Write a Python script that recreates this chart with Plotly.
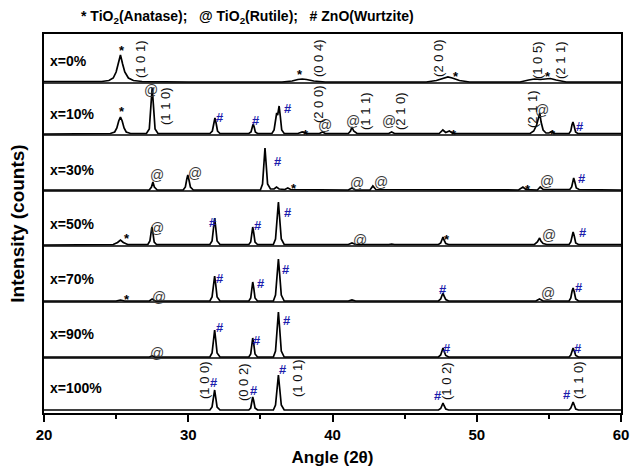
import plotly.graph_objects as go

# Sample labels, top to bottom
samples = ["x=0%", "x=10%", "x=30%", "x=50%", "x=70%", "x=90%", "x=100%"]

# (2θ, counts) vertices of each diffractogram
xrd_0 = [(20, 0.5), (24.0, 0.5), (24.5, 1.5), (24.8, 4), (25.0, 10), (25.15, 18), (25.3, 27),
         (25.45, 18), (25.6, 10), (25.85, 4), (26.2, 1.5), (26.8, 0.5), (30, 0), (36.5, 0),
         (37.2, 1), (37.6, 2.5), (37.9, 3), (38.2, 2.5), (38.7, 1), (39.5, 0), (46.5, 0),
         (47.2, 1.5), (47.7, 4), (48.0, 5), (48.3, 4), (48.8, 1.5), (49.5, 0), (53.0, 0),
         (53.6, 2), (54.0, 3), (54.4, 2.5), (54.8, 3), (55.1, 3.5), (55.5, 2), (56.2, 0), (60, 0)]

xrd_10 = [(20, 0), (24.6, 0.5), (24.9, 2), (25.05, 6), (25.18, 13), (25.3, 17), (25.42, 13),
          (25.55, 6), (25.7, 2), (26.0, 0.5),
          (27.1, 0.5), (27.3, 5), (27.42, 30), (27.5, 46), (27.58, 30), (27.7, 5), (27.9, 0.5),
          (31.5, 0.5), (31.67, 3), (31.77, 11), (31.85, 16), (31.93, 11), (32.03, 3), (32.2, 0.5),
          (34.2, 0.5), (34.35, 2), (34.43, 7), (34.5, 10), (34.57, 7), (34.65, 2), (34.8, 0.5),
          (35.8, 0.5), (35.95, 4), (36.05, 14), (36.13, 21), (36.2, 19), (36.3, 28), (36.38, 18),
          (36.48, 4), (36.65, 0.5),
          (37.6, 0.5), (37.9, 2), (38.2, 0.5), (39.1, 0.5), (39.3, 2), (39.5, 0.5),
          (41.1, 0.5), (41.25, 3), (41.35, 7), (41.47, 3), (41.7, 0.5),
          (43.9, 0.5), (44.1, 2), (44.3, 0.5),
          (47.4, 0.5), (47.65, 4), (47.85, 1.5), (48.1, 3), (48.35, 0.5),
          (53.7, 0.5), (53.95, 3), (54.15, 9), (54.28, 16), (54.37, 21), (54.46, 12), (54.6, 4),
          (54.8, 1), (55.0, 1), (55.2, 2.5), (55.4, 0.5),
          (56.4, 0.5), (56.52, 3), (56.6, 9), (56.67, 12), (56.75, 8), (56.85, 2), (57.0, 0.5),
          (60, 0.5)]

xrd_30 = [(20, 0), (27.3, 0), (27.45, 3), (27.55, 8), (27.65, 3), (27.85, 0),
          (29.65, 0), (29.8, 3), (29.9, 11), (29.97, 15), (30.05, 10), (30.15, 3), (30.35, 0),
          (35.0, 0), (35.15, 6), (35.25, 28), (35.32, 42), (35.39, 28), (35.5, 6), (35.7, 1),
          (35.95, 1), (36.12, 3), (36.3, 1), (36.7, 0.5), (36.9, 2), (37.1, 0.5),
          (41.1, 0), (41.35, 2), (41.6, 0), (42.6, 0), (42.8, 4), (43.0, 0.5),
          (52.9, 0), (53.2, 3), (53.4, 0.5), (54.2, 0), (54.4, 3), (54.6, 0.5),
          (56.45, 0.5), (56.58, 3), (56.66, 9), (56.72, 12), (56.8, 8), (56.9, 2), (57.1, 0.5),
          (60, 0)]

xrd_50 = [(20, 0), (24.8, 0.5), (25.1, 2.5), (25.3, 5), (25.5, 2.5), (25.8, 0.5),
          (27.2, 0.5), (27.34, 4), (27.42, 12), (27.48, 18), (27.55, 12), (27.64, 3), (27.8, 0.5),
          (31.5, 0.5), (31.65, 4), (31.76, 18), (31.83, 27), (31.9, 18), (32.0, 4), (32.2, 0.5),
          (34.2, 0.5), (34.33, 3), (34.41, 12), (34.47, 18), (34.54, 12), (34.63, 3), (34.8, 0.5),
          (35.9, 0.5), (36.05, 6), (36.17, 28), (36.25, 43), (36.33, 28), (36.45, 6), (36.65, 0.5),
          (41.1, 0.5), (41.35, 2), (41.6, 0.5), (43.9, 0.5), (44.1, 1), (44.3, 0.5),
          (47.35, 0.5), (47.5, 2), (47.6, 6), (47.66, 8), (47.73, 5), (47.85, 1.5), (48.05, 0.5),
          (54.0, 0.5), (54.2, 3), (54.3, 6), (54.36, 7), (54.45, 4), (54.6, 1.5), (54.85, 0.5),
          (56.4, 0.5), (56.52, 3), (56.61, 10), (56.68, 13), (56.76, 9), (56.86, 2), (57.05, 0.5),
          (60, 0.5)]

xrd_70 = [(20, 0), (25.0, 0), (25.3, 1), (25.6, 0), (27.3, 0), (27.5, 2), (27.7, 0),
          (31.5, 0), (31.65, 4), (31.76, 17), (31.83, 25), (31.9, 17), (32.0, 4), (32.2, 0),
          (34.2, 0), (34.33, 3), (34.41, 13), (34.47, 19), (34.54, 13), (34.63, 3), (34.8, 0),
          (35.9, 0), (36.05, 6), (36.17, 28), (36.25, 42), (36.33, 28), (36.45, 6), (36.65, 0),
          (41.1, 0), (41.35, 1), (41.6, 0),
          (47.35, 0), (47.5, 2), (47.6, 6), (47.66, 8), (47.73, 5), (47.85, 1.5), (48.05, 0),
          (54.1, 0), (54.35, 2), (54.6, 0),
          (56.4, 0), (56.52, 3), (56.61, 10), (56.68, 13), (56.76, 9), (56.86, 2), (57.05, 0),
          (60, 0)]

xrd_90 = [(20, 0), (27.3, 0), (27.5, 1), (27.7, 0),
          (31.5, 0), (31.65, 4), (31.76, 18), (31.83, 27), (31.9, 18), (32.0, 4), (32.2, 0),
          (34.2, 0), (34.33, 3), (34.41, 13), (34.47, 19), (34.54, 13), (34.63, 3), (34.8, 0),
          (35.9, 0), (36.05, 6), (36.17, 30), (36.25, 45), (36.33, 30), (36.45, 6), (36.65, 0),
          (47.35, 0), (47.5, 2), (47.6, 7), (47.66, 9), (47.73, 6), (47.85, 1.5), (48.05, 0),
          (56.4, 0), (56.52, 2), (56.61, 7), (56.68, 9), (56.76, 6), (56.86, 1.5), (57.05, 0),
          (60, 0)]

xrd_100 = [(20, 0), (31.5, 0), (31.65, 3), (31.76, 13), (31.83, 20), (31.9, 13), (32.0, 3),
           (32.2, 0), (34.2, 0), (34.33, 2), (34.41, 9), (34.47, 13), (34.54, 9), (34.63, 2),
           (34.8, 0), (35.9, 0), (36.05, 5), (36.17, 23), (36.25, 35), (36.33, 23), (36.45, 5),
           (36.65, 0), (47.35, 0), (47.5, 1.5), (47.6, 5), (47.66, 7), (47.73, 4.5), (47.85, 1),
           (48.05, 0), (56.4, 0), (56.52, 2), (56.61, 6), (56.68, 8), (56.76, 5), (56.86, 1),
           (57.05, 0), (60, 0)]

patterns = [xrd_0, xrd_10, xrd_30, xrd_50, xrd_70, xrd_90, xrd_100]

# Vertical stacking of the traces (counts)
stack_offset = [331, 279, 223, 168, 112, 56, 3]
y_top = 379

# Phase markers: (2θ, stacked height)
anatase_tags = [(25.41, 367), (37.75, 343), (48.56, 341), (54.94, 341),
                (25.41, 306), (38.16, 283), (48.42, 283), (55.29, 283),
                (37.33, 229), (53.55, 228),
                (25.75, 179), (47.94, 178),
                (25.75, 118)]
rutile_tags = [(27.42, 323), (39.48, 288), (41.42, 292), (43.92, 292), (54.52, 303),
               (27.83, 238), (30.47, 240), (41.7, 230), (43.36, 231), (54.87, 232),
               (27.83, 185), (41.91, 173), (55.01, 178),
               (27.97, 116), (54.94, 120),
               (27.83, 60)]
zno_tags = [(32.2, 296), (34.7, 293), (36.92, 305), (57.16, 287),
            (36.22, 252), (57.3, 235),
            (31.72, 191), (34.84, 188), (36.92, 201), (57.37, 181),
            (32.2, 135), (35.04, 130), (36.78, 144), (47.66, 124), (57.09, 126),
            (32.2, 86), (34.77, 73), (36.85, 93), (47.94, 65), (57.02, 65),
            (31.79, 31), (34.56, 23), (36.57, 44), (47.31, 18), (56.26, 19)]
hkl_tags = [(26.66, 354, "(1 0 1)"), (39.0, 355, "(0 0 4)"), (47.31, 355, "(2 0 0)"),
            (54.18, 353, "(1 0 5)"), (55.77, 353, "(2 1 1)"),
            (28.39, 307, "(1 1 0)"), (39.0, 309, "(2 0 0)"), (42.25, 302, "(1 1 1)"),
            (44.68, 302, "(2 1 0)"), (53.83, 304, "(2 1 1)"),
            (31.09, 33, "(1 0 0)"), (33.8, 31, "(0 0 2)"), (37.54, 35, "(1 0 1)"),
            (47.87, 32, "(1 0 2)"), (57.02, 33, "(1 1 0)")]
sample_label_y = [352, 299, 243, 189, 134, 79, 25]

FONT = "Liberation Sans, Arial, sans-serif"
ZNO_BLUE = "#1c1cac"

fig = go.Figure()
for pts, off in zip(patterns, stack_offset):
    fig.add_trace(go.Scatter(
        x=[p[0] for p in pts], y=[p[1] + off for p in pts],
        mode="lines", line=dict(color="black", width=1.7),
        hoverinfo="skip", showlegend=False))

ann = []
for a, h in anatase_tags:
    ann.append(dict(x=a, y=h, text="*", yshift=-4,
                    font=dict(family=FONT, size=13, color="black", weight="bold")))
for a, h in rutile_tags:
    ann.append(dict(x=a, y=h, text="@",
                    font=dict(family=FONT, size=14, color="#3a3a3a")))
for a, h in zno_tags:
    ann.append(dict(x=a, y=h, text="#",
                    font=dict(family=FONT, size=13, color=ZNO_BLUE, weight="bold")))
for a, h, t in hkl_tags:
    ann.append(dict(x=a, y=h, text=t, textangle=-90,
                    font=dict(family=FONT, size=13, color="#111111")))
for lab, h in zip(samples, sample_label_y):
    ann.append(dict(x=20.25, y=h, text=lab, xanchor="left",
                    font=dict(family=FONT, size=14, color="black", weight="bold")))
for a in ann:
    a.setdefault("showarrow", False)
    a.setdefault("xref", "x")
    a.setdefault("yref", "y")

nb = "\u00a0"
ann.append(dict(xref="paper", yref="paper", x=0.352, y=1.045, xanchor="center",
                yanchor="middle", showarrow=False,
                text=f"*{nb}TiO<sub>2</sub>(Anatase);{nb*3}@{nb}TiO<sub>2</sub>(Rutile);"
                     f"{nb*3}#{nb}ZnO(Wurtzite)",
                font=dict(family=FONT, size=14, color="black", weight="bold")))

# Panel separators
shapes = [dict(type="line", xref="paper", x0=0, x1=1, yref="y", y0=off - 1, y1=off - 1,
               line=dict(color="black", width=1.5))
          for off in stack_offset[:-1]]

fig.update_layout(
    width=630, height=467,
    margin=dict(l=44, r=9, t=34, b=54, autoexpand=False),
    paper_bgcolor="white", plot_bgcolor="white",
    annotations=ann, shapes=shapes,
    xaxis=dict(range=[20, 60], tickvals=[20, 30, 40, 50, 60], automargin=False,
               ticks="outside", ticklen=7, tickwidth=2, tickcolor="black",
               minor=dict(dtick=5, tick0=20, ticks="outside", ticklen=4, tickwidth=2,
                          tickcolor="black"),
               showline=True, linewidth=2, linecolor="black", mirror=True,
               showgrid=False, zeroline=False,
               tickfont=dict(family=FONT, size=15, color="black", weight="bold"),
               title=dict(text="Angle (2θ)", standoff=9,
                          font=dict(family=FONT, size=17, color="black", weight="bold"))),
    yaxis=dict(range=[0, y_top], showticklabels=False, ticks="", automargin=False,
               showline=True, linewidth=2, linecolor="black", mirror=True,
               showgrid=False, zeroline=False,
               title=dict(text="Intensity (counts)", standoff=12,
                          font=dict(family=FONT, size=19, color="black", weight="bold"))),
)

fig.write_html("out.html")
